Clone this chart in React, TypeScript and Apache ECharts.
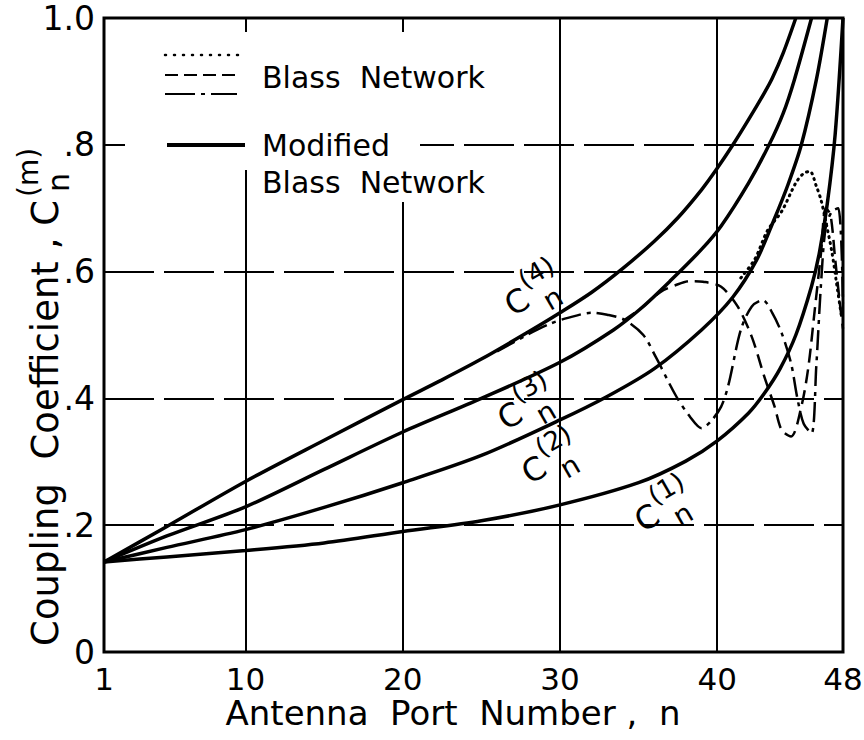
import React, { useEffect, useRef } from "react";
import * as echarts from "echarts";

// ---- data ----
const xTickValues = [1, 10, 20, 30, 40, 48];
const xGridValues = [10, 20, 30, 40];
const yTickLabels = ["0", ".2", ".4", ".6", ".8", "1.0"];

// Modified Blass network (solid)
const modC1 = [[1, 0.142], [5, 0.150], [10, 0.160], [15, 0.172], [20, 0.190], [25, 0.207], [30, 0.232], [35, 0.267], [38, 0.301], [40, 0.333], [42, 0.377], [43, 0.408], [44, 0.447], [45, 0.50], [46, 0.577], [46.5, 0.63], [47, 0.707], [47.5, 0.816], [48, 1.0]];
const modC2 = [[1, 0.142], [5, 0.165], [10, 0.193], [15, 0.228], [20, 0.267], [25, 0.31], [30, 0.366], [33, 0.403], [36, 0.447], [39, 0.508], [41, 0.56], [42.5, 0.618], [43.6, 0.681], [44.5, 0.737], [45.35, 0.80], [46.3, 0.902], [47, 1.0]];
const modC3 = [[1, 0.142], [5, 0.183], [10, 0.229], [15, 0.288], [20, 0.347], [25, 0.40], [30, 0.457], [33.4, 0.508], [35.2, 0.543], [37, 0.585], [39, 0.635], [40.25, 0.672], [42, 0.74], [43.3, 0.80], [44.2, 0.85], [44.9, 0.902], [46, 1.0]];
const modC4 = [[1, 0.142], [5, 0.198], [10, 0.269], [15, 0.334], [20, 0.398], [22.4, 0.428], [25, 0.462], [28, 0.505], [30, 0.535], [32, 0.567], [34, 0.605], [36, 0.648], [37.5, 0.685], [39, 0.729], [40, 0.763], [41, 0.80], [42, 0.84], [43, 0.882], [43.5, 0.905], [44.2, 0.945], [45, 1.0]];

// Blass network
const blassDotted = [[41.5, 0.59], [42.4, 0.62], [43.2, 0.665], [44.1, 0.695], [45, 0.74], [45.5, 0.755], [45.9, 0.758], [46.3, 0.735], [46.6, 0.713], [46.9, 0.68], [47.3, 0.63], [47.6, 0.58], [47.9, 0.53]];
const blassDashed = [[34, 0.522], [35.2, 0.543], [36.4, 0.568], [37.5, 0.58], [38.3, 0.585], [39.1, 0.584], [40.25, 0.576], [41.3, 0.545], [42.2, 0.497], [43.0, 0.434], [43.65, 0.387], [44.1, 0.35], [44.7, 0.34], [45.35, 0.387], [45.8, 0.45], [46.2, 0.539], [46.6, 0.629], [46.9, 0.70], [47.2, 0.69], [47.5, 0.62], [47.8, 0.55], [48, 0.51]];
const blassDashDot = [[26, 0.474], [27.9, 0.50], [29.4, 0.518], [30.5, 0.527], [32, 0.535], [33, 0.532], [34.1, 0.524], [35.3, 0.50], [36.1, 0.465], [37.4, 0.403], [38.3, 0.37], [39.0, 0.353], [39.6, 0.364], [40.25, 0.387], [40.7, 0.42], [41.5, 0.508], [42.2, 0.545], [42.9, 0.555], [43.5, 0.535], [44.1, 0.503], [44.7, 0.455], [45.1, 0.40], [45.5, 0.36], [46.0, 0.345], [46.3, 0.45], [46.6, 0.58], [46.9, 0.67], [47.3, 0.695], [47.7, 0.70], [48, 0.55]];

const FONT = "DejaVu Sans";

function curveLabel(x: number, y: number, m: string) {
  return {
    type: "group",
    x,
    y,
    rotation: Math.PI / 6,
    z: 60,
    children: [
      { type: "text", x: 0, y: 0, style: { text: "C", fontFamily: FONT, fontSize: 32, fill: "#000", align: "center", verticalAlign: "middle" } },
      { type: "text", x: 13, y: -16, style: { text: "(" + m + ")", fontFamily: FONT, fontSize: 26, fill: "#000", align: "left", verticalAlign: "middle" } },
      { type: "text", x: 24, y: 15, style: { text: "n", fontFamily: FONT, fontSize: 28, fill: "#000", align: "left", verticalAlign: "middle" } },
    ],
  };
}

export default function App() {
  const ref = useRef<HTMLDivElement>(null);
  useEffect(() => {
    if (!ref.current) return;
    const chart = echarts.init(ref.current, null, { renderer: "svg" });
    const solid = (name: string, data: number[][]) => ({
      name,
      type: "line",
      data,
      smooth: 0.3,
      symbol: "none",
      z: 5,
      lineStyle: { color: "#000", width: 3.5 },
    });
    const blass = (name: string, data: number[][], lineStyle: any, extra: any = {}) => ({
      name,
      type: "line",
      data,
      smooth: 0.3,
      symbol: "none",
      z: 3,
      lineStyle: { color: "#000", ...lineStyle },
      ...extra,
    });
    const option: any = {
      animation: false,
      backgroundColor: "#fff",
      textStyle: { fontFamily: FONT, color: "#000" },
      grid: {
        left: 104,
        right: 21,
        top: 18,
        bottom: 88,
        show: true,
        borderColor: "#000",
        borderWidth: 3,
        backgroundColor: "transparent",
        containLabel: false,
        outerBoundsMode: "none",
      },
      xAxis: {
        type: "value",
        min: 1,
        max: 48,
        axisLine: { show: false },
        axisTick: { show: false },
        splitLine: { show: false },
        axisLabel: {
          customValues: xTickValues,
          fontFamily: FONT,
          fontSize: 31,
          color: "#000",
          margin: 11,
          formatter: (v: number) => String(v),
        },
      },
      yAxis: {
        type: "value",
        min: 0,
        max: 1,
        interval: 0.2,
        axisLine: { show: false },
        axisTick: { show: false },
        splitLine: { show: true, lineStyle: { color: "#000", width: 2, type: [50, 10] } },
        axisLabel: {
          fontFamily: FONT,
          fontSize: 33,
          color: "#000",
          margin: 9,
          formatter: (v: number) => yTickLabels[Math.round(v / 0.2)],
        },
      },
      series: [
        blass("Blass dotted", blassDotted, { width: 3, type: [1, 5], cap: "round" }, {
          markLine: {
            silent: true,
            symbol: ["none", "none"],
            label: { show: false },
            lineStyle: { color: "#000", width: 2, type: "solid" },
            data: xGridValues.map((v) => ({ xAxis: v })),
          },
        }),
        blass("Blass dashed", blassDashed, { width: 2.5, type: [14, 7] }),
        blass("Blass dash-dot", blassDashDot, { width: 2.5, type: [20, 6, 4, 6] }),
        solid("C1", modC1),
        solid("C2", modC2),
        solid("C3", modC3),
        solid("C4", modC4),
      ],
      graphic: [
        // legend background
        { type: "rect", z: 50, shape: { x: 125, y: 32, width: 375, height: 88 }, style: { fill: "#fff" } },
        { type: "rect", z: 50, shape: { x: 125, y: 120, width: 295, height: 50 }, style: { fill: "#fff" } },
        { type: "rect", z: 50, shape: { x: 255, y: 165, width: 235, height: 37 }, style: { fill: "#fff" } },
        // legend samples
        { type: "line", z: 55, shape: { x1: 165, y1: 55, x2: 243, y2: 55 }, style: { stroke: "#000", lineWidth: 2.5, lineDash: [1, 8], lineCap: "round" } },
        { type: "line", z: 55, shape: { x1: 165, y1: 75, x2: 235, y2: 75 }, style: { stroke: "#000", lineWidth: 2, lineDash: [13, 6] } },
        { type: "line", z: 55, shape: { x1: 165, y1: 94, x2: 237, y2: 94 }, style: { stroke: "#000", lineWidth: 2, lineDash: [30, 6, 4, 6] } },
        { type: "line", z: 55, shape: { x1: 167, y1: 145, x2: 245, y2: 145 }, style: { stroke: "#000", lineWidth: 4 } },
        { type: "text", z: 55, x: 262, y: 77, style: { text: "Blass  Network", fontFamily: FONT, fontSize: 30, fill: "#000", align: "left", verticalAlign: "middle" } },
        { type: "text", z: 55, x: 262, y: 145, style: { text: "Modified", fontFamily: FONT, fontSize: 30, fill: "#000", align: "left", verticalAlign: "middle" } },
        { type: "text", z: 55, x: 262, y: 182, style: { text: "Blass  Network", fontFamily: FONT, fontSize: 30, fill: "#000", align: "left", verticalAlign: "middle" } },
        // x-axis title
        { type: "text", z: 60, x: 453, y: 713, style: { text: "Antenna  Port  Number ,  n", fontFamily: FONT, fontSize: 34, fill: "#000", align: "center", verticalAlign: "middle" } },
        // y-axis title
        {
          type: "group",
          x: 45,
          y: 200,
          rotation: Math.PI / 2,
          z: 60,
          children: [
            { type: "text", x: 0, y: 0, style: { text: "Coupling  Coefficient , C", fontFamily: FONT, fontSize: 37, fill: "#000", align: "right", verticalAlign: "middle" } },
            { type: "text", x: 3, y: -17, style: { text: "(m)", fontFamily: FONT, fontSize: 28, fill: "#000", align: "left", verticalAlign: "middle" } },
            { type: "text", x: 8, y: 13, style: { text: "n", fontFamily: FONT, fontSize: 30, fill: "#000", align: "left", verticalAlign: "middle" } },
          ],
        },
        curveLabel(517, 302, "4"),
        curveLabel(510, 416, "3"),
        curveLabel(534, 470, "2"),
        curveLabel(647, 518, "1"),
      ],
    };
    chart.setOption(option);
    return () => chart.dispose();
  }, []);
  return (
    <div
      ref={ref}
      style={{ position: "fixed", left: 0, top: 0, width: 864, height: 740, background: "#fff" }}
    />
  );
}
